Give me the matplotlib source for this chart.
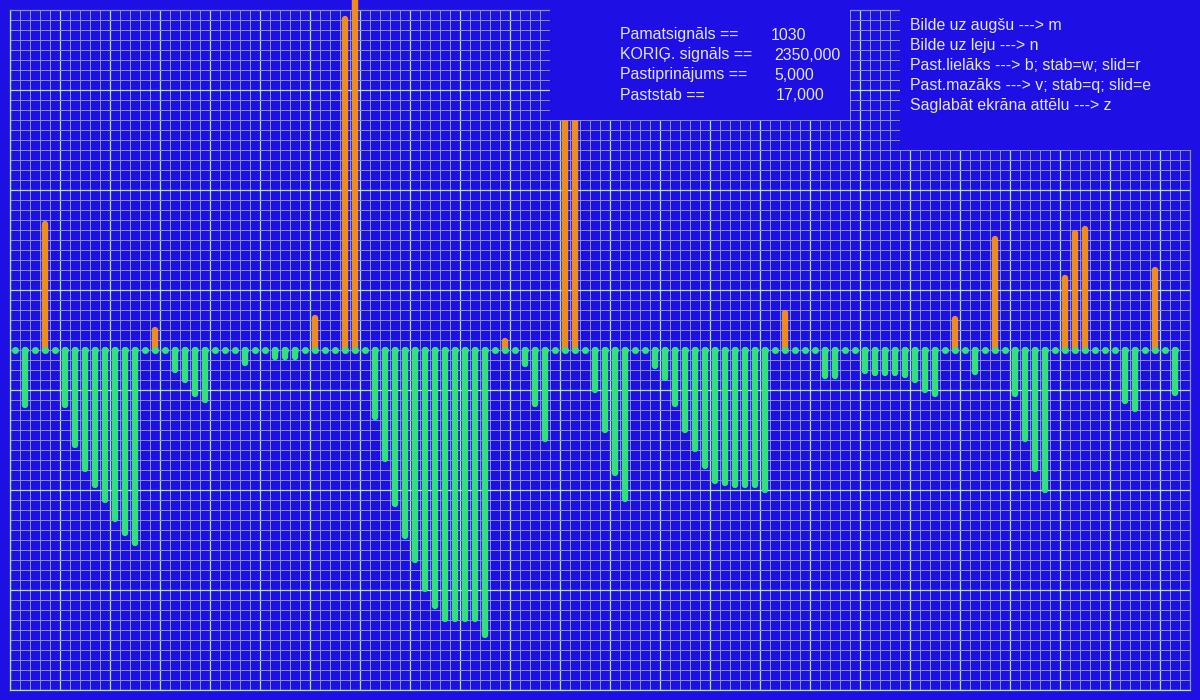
import numpy as np
import matplotlib
matplotlib.use("Agg")
import matplotlib.pyplot as plt
from matplotlib.patches import Rectangle

# ---- data ----
signal_values = [
    0, -58, 0, 129, 0, -58, -98, -122, -138, -153, -172, -186, -196, 0, 23, 0,
    -23, -33, -47, -53, 0, 0, 0, -16, 0, 0, -10, -10, -10, 0, 35, 0, 0, 334, 400,
    0, -70, -112, -157, -189, -213, -242, -259, -272, -272, -272, -272, -288, 0,
    12, 0, -17, -57, -92, 0, 400, 400, 0, -43, -83, -126, -152, 0, 0, -19, -31,
    -57, -83, -102, -119, -134, -136, -138, -138, -138, -143, 0, 40, 0, 0, 0,
    -29, -29, 0, 0, -24, -26, -26, -26, -28, -33, -43, -47, 0, 34, 0, -25, 0,
    114, 0, -47, -92, -122, -143, 0, 75, 120, 124, 0, 0, 0, -54, -62, 0, 83, 0,
    -46,
]
info_labels = ["Pamatsignāls ==", "KORIĢ. signāls ==", "Pastiprinājums ==", "Paststab =="]
info_values = ["1030", "2350,000", "5,000", "17,000"]
help_lines = [
    "Bilde uz augšu ---> m",
    "Bilde uz leju ---> n",
    "Past.lielāks ---> b; stab=w; slid=r",
    "Past.mazāks ---> v; stab=q; slid=e",
    "Saglabāt ekrāna attēlu ---> z",
]

BG = "#1e0fe4"
MINOR = "#7a92ea"
MAJOR = "#a4e4ee"
GREEN = "#33e07c"
ORANGE = "#f08c1e"
TXT = "#e4e4fa"

W, H = 1200, 700
fig = plt.figure(figsize=(12, 7), dpi=100, facecolor=BG)
ax = fig.add_axes([10 / W, 10 / H, 1180 / W, 680 / H])
ax.set_facecolor(BG)

n = len(signal_values)
ax.set_xlim(-0.5, 117.5)
ax.set_ylim(-340, 340)

# grid
ax.set_xticks(np.arange(-0.5, 118, 5))
ax.set_xticks(np.arange(-0.5, 118, 1), minor=True)
ax.set_yticks(np.arange(260, -341, -100))
ax.set_yticks(np.arange(-340, 341, 10), minor=True)
ax.grid(which="minor", color=MINOR, linewidth=0.72)
ax.grid(which="major", color=MAJOR, linewidth=0.9)
ax.set_axisbelow(True)
ax.tick_params(which="both", length=0, labelleft=False, labelbottom=False)
for s in ["top", "right"]:
    ax.spines[s].set_color(MINOR)
for s in ["left", "bottom"]:
    ax.spines[s].set_color(MAJOR)
for s in ax.spines.values():
    s.set_linewidth(0.9)

# bars
cap = 3.2
lw_pt = 6.4 * 72 / 100
for i, v in enumerate(signal_values):
    if v == 0:
        continue
    col = ORANGE if v > 0 else GREEN
    end = v - np.sign(v) * cap
    ax.plot([i, i], [0, end], color=col, linewidth=lw_pt,
            solid_capstyle="round", clip_on=False, zorder=3)

ax.plot(np.arange(n), np.zeros(n), linestyle="none", marker="o",
        markersize=7 * 72 / 100, color=GREEN, markeredgewidth=0,
        clip_on=False, zorder=4)

# info boxes
fig.add_artist(Rectangle((550 / W, 1 - 120 / H), 300 / W, 120 / H,
                         transform=fig.transFigure, facecolor=BG,
                         edgecolor="none", zorder=10))
fig.add_artist(Rectangle((900 / W, 1 - 150 / H), 300 / W, 150 / H,
                         transform=fig.transFigure, facecolor=BG,
                         edgecolor="none", zorder=10))

font = dict(family=["Liberation Sans", "DejaVu Sans"], fontsize=11.4,
            color=TXT, va="baseline", zorder=11)
val_x = [771, 774, 774, 776]
for k, (lab, val) in enumerate(zip(info_labels, info_values)):
    yb = 39.5 + 20 * k
    fig.text(620 / W, 1 - yb / H, lab, **font)
    fig.text(val_x[k] / W, 1 - yb / H, val, **font)

for k, line in enumerate(help_lines):
    yb = 30 + 20 * k
    fig.text(910 / W, 1 - yb / H, line, **font)

fig.savefig("out.png", dpi=100, facecolor=BG)
